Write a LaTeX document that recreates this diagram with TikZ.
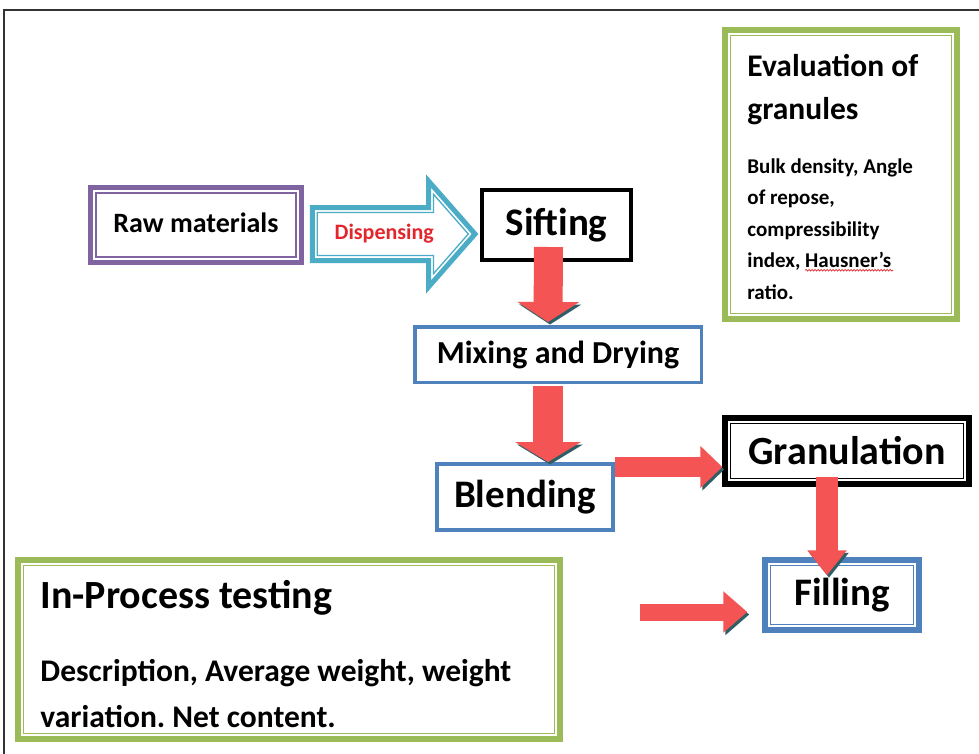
\documentclass[tikz,border=0pt]{standalone}
\usepackage{fontspec}
\setmainfont{Carlito}
\usetikzlibrary{arrows.meta,calc,decorations.pathmorphing}
\definecolor{rawpurple}{HTML}{8064A2}
\definecolor{dispteal}{HTML}{4BACC6}
\definecolor{stepblue}{HTML}{4F81BD}
\definecolor{testgreen}{HTML}{9BBB59}
\definecolor{arrowred}{HTML}{F55454}
\definecolor{arrowshade}{HTML}{2F5F66}
\definecolor{labelred}{HTML}{E3262B}
\definecolor{framegray}{HTML}{333333}
\newcommand\fsz[2]{\fontsize{#1}{#2}\selectfont\bfseries}
\frenchspacing

\begin{document}
\begin{tikzpicture}[x=1pt,y=-1pt,
  box/.style={draw=#1,rectangle,inner sep=0pt},
  dblbox/.style={box=#1,line width=5.5pt,
    path picture={\draw[#1,line width=1.3pt]
      ([shift={(5.5pt,-5.5pt)}]path picture bounding box.north west) rectangle
      ([shift={(-5.5pt,5.5pt)}]path picture bounding box.south east);}},
  fatarrow/.style n args={3}{arrowred,line width=#1pt,
    -{Triangle[length=#2pt,width=#3pt]},
    preaction={draw=arrowshade,transform canvas={shift={(2pt,-2.5pt)}}}}]
\fill[white] (0,0) rectangle (979,754);
\useasboundingbox (0,0) rectangle (979,754);
\draw[framegray,line width=1.5pt] (4,754) -- (4,10) -- (979,10);

\node[dblbox=rawpurple,minimum width=211pt,minimum height=75pt,font=\fsz{28}{34}] (rawmat) at (196,225) {\raisebox{4pt}{Raw materials}};
\node[box=black,line width=4pt,minimum width=149pt,minimum height=70pt,font=\fsz{39}{46}] (sift) at (556.5,225) {Sifting};
\node[box=stepblue,line width=3.5pt,minimum width=286.5pt,minimum height=55.5pt,font=\fsz{32}{38}] (mix) at (558,354.5) {Mixing and Drying};
\node[box=stepblue,line width=4pt,minimum width=176pt,minimum height=66pt,font=\fsz{39}{46}] (blend) at (525,497) {Blending};
\node[dblbox=black,minimum width=244pt,minimum height=66pt,font=\fsz{40}{48}] (gran) at (847,451) {Granulation};
\node[dblbox=stepblue,minimum width=154pt,minimum height=70pt,font=\fsz{39}{46}] (fill) at (842,595) {Filling};
\node[dblbox=testgreen,minimum width=542pt,minimum height=179pt] (inproc) at (289,649.5) {};
\node[dblbox=testgreen,minimum width=232pt,minimum height=289pt] (evalg) at (841,174.5) {};

\node[anchor=base west,inner sep=0pt,font=\fsz{40}{48}] (intitle) at ($(inproc.north west)+(25,51)$) {In-Process testing};
\node[anchor=base west,inner sep=0pt,font=\fsz{31.5}{46}] (inbody) at ($(inproc.north west)+(25,124)$)
  {\begin{tabular}[t]{@{}l@{}}Description, Average weight, weight\\variation. Net content.\end{tabular}};
\node[anchor=base west,inner sep=0pt,font=\fsz{31.5}{43}] (evtitle) at ($(evalg.north west)+(25,49)$)
  {\begin{tabular}[t]{@{}l@{}}Evaluation of\\granules\end{tabular}};
\node[anchor=base west,inner sep=0pt,font=\fsz{21}{31.5}] (evbody) at ($(evalg.north west)+(25,146)$)
  {\begin{tabular}[t]{@{}l@{}}Bulk density, Angle\\of repose,\\compressibility\\index, Hausner's\\ratio.\end{tabular}};
\draw[labelred,line width=0.7pt,decorate,decoration={snake,amplitude=0.8pt,segment length=3pt}]
  ($(evbody.base west)+(58,97)$) -- ($(evbody.base west)+(146,97)$);

\coordinate (dtail) at ($(rawmat.east)+(8,9)$);
\coordinate (dtip) at ($(sift.west)+(-5,9)$);
\draw[dispteal,line width=5pt] ($(dtail)+(0,-26.5)$) -- ($(dtip)+(-46.5,-26.5)$) -- ($(dtip)+(-46.5,-53)$)
  -- (dtip) -- ($(dtip)+(-46.5,53)$) -- ($(dtip)+(-46.5,26.5)$) -- ($(dtail)+(0,26.5)$) -- cycle;
\draw[dispteal,line width=1.3pt] ($(dtail)+(5,-21.5)$) -- ($(dtip)+(-41.5,-21.5)$) -- ($(dtip)+(-41.5,-39.7)$)
  -- ($(dtip)+(-6.7,0)$) -- ($(dtip)+(-41.5,39.7)$) -- ($(dtip)+(-41.5,21.5)$) -- ($(dtail)+(5,21.5)$) -- cycle;
\node[font=\fsz{22}{26},text=labelred] (displbl) at ($(dtail)+(72,0)$) {Dispensing};

\draw[fatarrow={29}{20}{61}] ($(sift.south)+(-8,-15)$) -- ($(mix.north)+(-10,-3)$);
\draw[fatarrow={30}{20}{65}] ($(mix.south)+(-10,2)$) -- ($(blend.north)+(23,0)$);
\draw[fatarrow={20}{22}{41}] ($(blend.east)+(0,-30)$) -- ($(gran.west)+(0,16)$);
\draw[fatarrow={22}{25}{38}] ($(gran.south)+(-20,-10)$) -- ($(fill.north)+(-15,18)$);
\coordinate (feed) at (640,612);
\draw[fatarrow={17}{24}{40}] (feed) -- ($(fill.west)+(-15,17)$);
\end{tikzpicture}
\end{document}
